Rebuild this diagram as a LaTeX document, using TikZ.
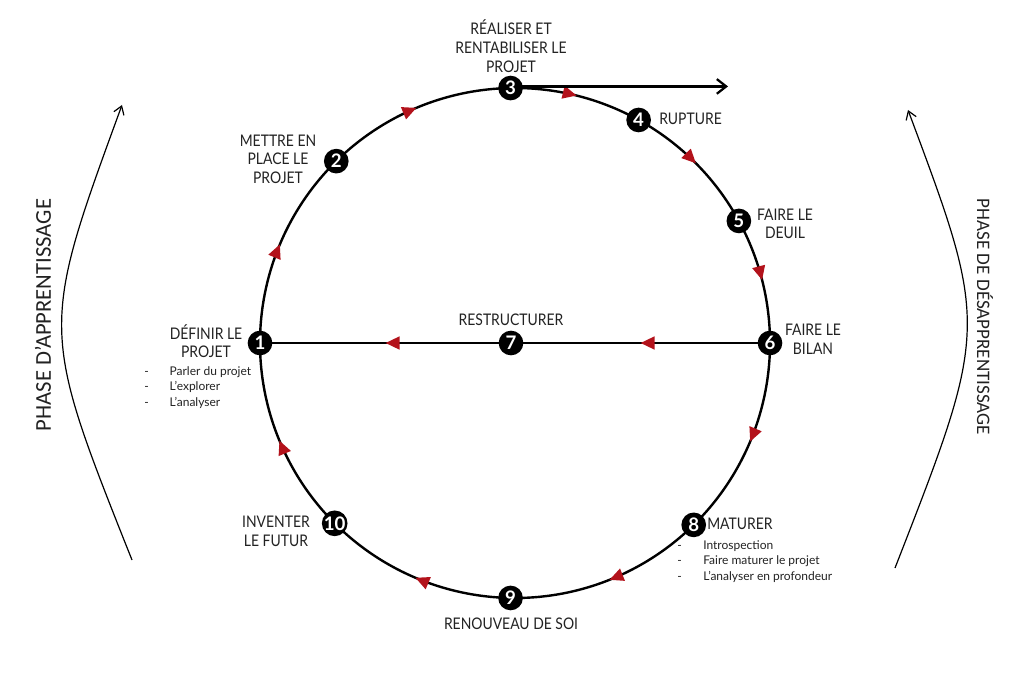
\documentclass[tikz,border=0pt]{standalone}
\usepackage{fontspec}
\setmainfont{Lato}
\newfontfamily\lblfont[FakeStretch=0.87]{Lato}
\newfontfamily\sidefont{Carlito}
\usetikzlibrary{arrows.meta,decorations.markings,backgrounds,calc}
\definecolor{mred}{HTML}{B3121B}
\definecolor{txt}{HTML}{222222}
\begin{document}
\begin{tikzpicture}[x=0.75pt,y=0.75pt,
  num/.style={circle,fill=black,text=white,minimum size=18.5pt,inner sep=0pt,font=\bfseries\fontsize{14}{14}\selectfont},
  lbl/.style={align=center,font=\lblfont\fontsize{12}{14}\selectfont,text=txt,inner sep=0pt},
  small/.style={align=left,font=\fontsize{9}{11.6}\selectfont,text=txt,inner sep=0pt,anchor=north west},
  cyc/.style={line width=1.8pt,postaction={decorate},
    decoration={markings,mark=at position 0.5 with {\arrow{Triangle[length=10.5pt,width=9.5pt,color=mred,fill=mred]}}}},
  side/.style={line width=0.9pt,-{Straight Barb[length=6pt,width=8pt]}},
  sidetext/.style={font=\sidefont,text=txt,inner sep=0pt},
]
\useasboundingbox (0,0) rectangle (1024,683);
\coordinate (C) at (515,340);
\def\R{255}
% stage nodes
\node[num] (n1) at ($(C)+(180:\R)$) {1};
\node[num] (n2) at ($(C)+(134.5:\R)$) {2};
\node[num] (n3) at ($(C)+(91:\R)$) {3};
\node[num] (n4) at ($(C)+(61:\R)$) {4};
\node[num] (n5) at ($(C)+(28.6:\R)$) {5};
\node[num] (n6) at ($(C)+(0:\R)$) {6};
\node[num] (n7) at (511,340) {7};
\node[num] (n8) at ($(C)+(-45.5:\R)$) {8};
\node[num] (n9) at ($(C)+(-91:\R)$) {9};
\node[num] (n10) at ($(C)+(-135:\R)$) {10};
% cycle
\begin{scope}[on background layer]
\draw[cyc] (n1.center) arc[start angle=180,end angle=134.5,radius=\R];
\draw[cyc] (n2.center) arc[start angle=134.5,end angle=91,radius=\R];
\draw[cyc] (n3.center) arc[start angle=91,end angle=61,radius=\R];
\draw[cyc] (n4.center) arc[start angle=61,end angle=28.6,radius=\R];
\draw[cyc] (n5.center) arc[start angle=28.6,end angle=0,radius=\R];
\draw[cyc] (n6.center) arc[start angle=0,end angle=-45.5,radius=\R];
\draw[cyc] (n8.center) arc[start angle=-45.5,end angle=-91,radius=\R];
\draw[cyc] (n9.center) arc[start angle=-91,end angle=-135,radius=\R];
\draw[cyc] (n10.center) arc[start angle=-135,end angle=-180,radius=\R];
\draw[cyc] (n6.center) -- (n7.center);
\draw[cyc] (n7.center) -- (n1.center);
\coordinate (out) at (728,0);
\draw[line width=1.7pt,-{Straight Barb[length=7pt,width=11pt]}] ([yshift=1.2pt]n3.center) -- ([yshift=1.2pt]n3.center -| out);
\end{scope}
% labels
\node[lbl] (l3) at (511,637) {RÉALISER ET\\RENTABILISER LE\\PROJET};
\node[lbl,anchor=west] (l4) at (659,564) {RUPTURE};
\node[lbl] (l5) at (785,459) {FAIRE LE\\DEUIL};
\node[lbl] (l6) at (813,344) {FAIRE LE\\BILAN};
\node[lbl] (l7) at (511,363) {RESTRUCTURER};
\node[lbl] (l1) at (206,342) {DÉFINIR LE\\PROJET};
\node[small] (b1) at (144,317) {\makebox[19pt][l]{-}Parler du projet\\\makebox[19pt][l]{-}L’explorer\\\makebox[19pt][l]{-}L’analyser};
\node[lbl] (l2) at (278,524) {METTRE EN\\PLACE LE\\PROJET};
\node[lbl] (l10) at (276,152) {INVENTER\\LE FUTUR};
\node[lbl,anchor=west] (l8) at (707,159) {MATURER};
\node[small] (b8) at (677,143) {\makebox[19.5pt][l]{-}Introspection\\\makebox[19.5pt][l]{-}Faire maturer le projet\\\makebox[19.5pt][l]{-}L’analyser en profondeur};
\node[lbl] (l9) at (511,59) {RENOUVEAU DE SOI};
% phases
\coordinate (la) at (132,123);
\coordinate (lb) at (122,578);
\draw[side] (la) .. controls (40,354) .. (lb);
\coordinate (ra) at (895,115);
\coordinate (rb) at (908,573);
\draw[side] (ra) .. controls (989,356) .. (rb);
\node[sidetext,rotate=90,font=\sidefont\fontsize{17}{17}\selectfont] (pl) at (43,368) {PHASE D’APPRENTISSAGE};
\node[sidetext,rotate=-90,font=\sidefont\fontsize{14.3}{14.3}\selectfont] (pr) at (985,366) {PHASE DE DÉSAPPRENTISSAGE};
\end{tikzpicture}
\end{document}
